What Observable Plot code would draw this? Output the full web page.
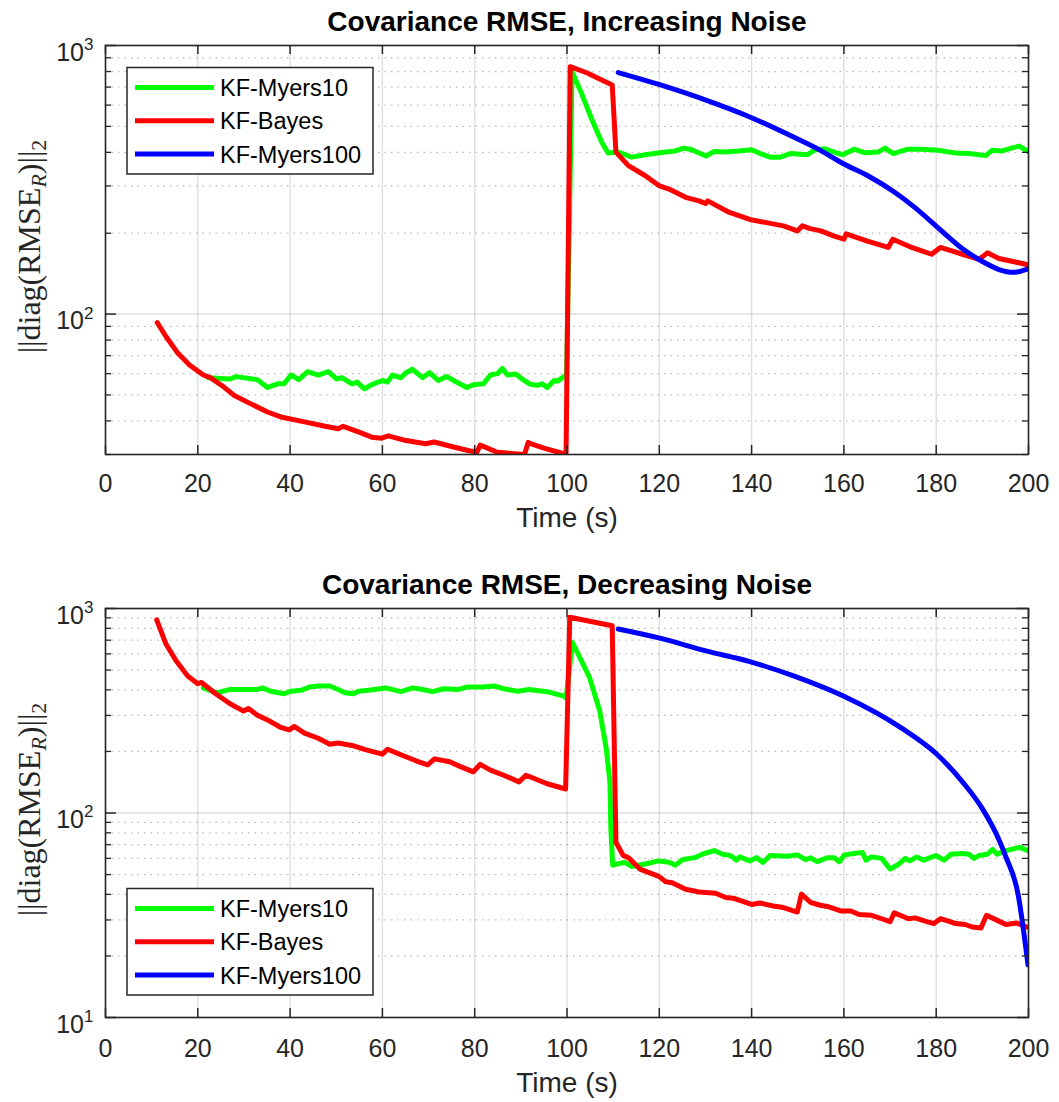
<!DOCTYPE html>
<html><head><meta charset="utf-8">
<script src="https://cdn.jsdelivr.net/npm/d3@7"></script>
<script src="https://cdn.jsdelivr.net/npm/@observablehq/plot@0.6"></script>
<style>body{margin:0;background:#fff;} svg{display:block;}</style>
</head><body><div id="chart"></div>
<script>
const seriesNames = ["KF-Myers10", "KF-Bayes", "KF-Myers100"];
const seriesColors = ["#00ff00", "#ff0000", "#0000ff"];
const xTicks = [0, 20, 40, 60, 80, 100, 120, 140, 160, 180, 200];
const titles = ["Covariance RMSE, Increasing Noise", "Covariance RMSE, Decreasing Noise"];
const xLabel = "Time (s)";

// Increasing noise panel: [time (s), value]
const incMyers10 = [[22.3,57.9],[27,57.3],[28.3,58.5],[32.9,57],[35.1,53.3],[37.3,55],[38.7,55],[40.2,59.3],[41.9,57],[43.8,61],[46.1,59.3],[48.3,61],[50.1,57.3],[51.2,58],[53.4,55],[54.5,55.8],[56.1,52.7],[57.7,54.6],[60,56.6],[61.1,55.8],[62.2,59.3],[64,57.9],[65.1,60.5],[66.5,62.3],[68.7,58],[70.2,60.5],[72.1,56.6],[73.9,58.6],[75.4,56.6],[78.3,53.3],[79.8,54.6],[81.9,55],[83.4,59.3],[84.9,60],[86,62.7],[87.1,59.3],[88.9,59.8],[90.7,56.6],[92,54.8],[93.5,54.3],[94.6,55],[95.7,53.3],[97.2,56.6],[97.9,56.2],[99,58],[99.9,59],[101.1,799],[103,673],[105.3,535],[107.5,437],[108.9,398],[111.1,401],[114,384],[116.9,392],[121.4,401],[123.5,405],[125.3,415],[126.9,410],[130.1,388],[131.9,403],[134.3,401],[137.2,405],[140,409],[141.9,396],[144,384],[146.2,384],[148.4,396],[152.1,392],[153.5,407],[155.7,413],[157.9,401],[159.7,392],[162.2,411],[164.4,399],[167.4,401],[168.9,415],[170.7,396],[173.9,411],[176.8,411],[180.5,407],[184.2,398],[187.1,396],[190.7,389],[192.1,407],[194.3,405],[195.9,413],[198,422],[199.9,403]];
const incBayes = [[11.2,93],[13.1,82.5],[15.7,71.4],[18.2,64.6],[21.2,59.3],[22.7,58],[25.6,53.6],[27.8,49.9],[31.4,46.4],[35.1,43.2],[38,41.4],[43.1,39.7],[47.6,38.2],[50.4,37.4],[51.5,38.2],[54.8,36.4],[57.7,34.8],[59.8,34.5],[61.3,35.2],[65.1,33.8],[69.4,32.9],[71.2,33.4],[75.4,32],[79,30.9],[80.5,30.7],[81.2,32.5],[84.9,30.6],[88.5,30.2],[90.8,30.0],[91.6,33.3],[92.1,32.9],[95,31.7],[99.3,30.2],[99.8,30.1],[100.7,834],[104.4,790],[107.4,745],[109.8,713],[110.6,401],[113.3,357],[116.9,328],[119.9,301],[122.1,292],[125.7,272],[128.6,264],[130,258],[130.5,264],[135.2,239],[139.6,225],[143.2,219],[146.9,213],[149.9,204],[151,213],[152.7,208],[155,204],[157.9,195],[160,190],[160.5,199],[165.1,187],[169.6,177],[170.6,190],[174.7,177],[179,167],[180.9,177],[185.7,167],[189.3,160],[191.1,169],[193.6,161],[199.6,153]];
const incMyers100 = [[111.1,793],[119.9,716],[130.1,626],[139.6,542],[149.1,456],[155,406],[160,362],[165.1,328],[171,284],[175.4,249],[181.3,203],[185.7,175],[190,157],[193.6,146.5],[196.7,143],[199.9,147.5]];

// Decreasing noise panel: [time (s), value]
const decMyers10 = [[21.2,409],[24.1,387],[27,402],[32.9,402],[34,409],[35.8,394],[38.7,383],[40.2,394],[42.4,398],[44.2,413],[46.1,418],[48.6,418],[50.4,402],[51.9,387],[53.7,383],[54.8,394],[57,398],[60.7,409],[64,392],[66.6,409],[68.7,402],[70.9,392],[73.2,405],[76.5,402],[78.3,413],[81.9,413],[84.2,418],[86.3,405],[89.3,394],[91.8,402],[95.7,392],[99.3,373],[99.8,365],[101.2,682],[104.9,459],[107.1,315],[108.5,207],[109.3,142],[109.5,83.8],[109.9,55.6],[112.5,57.4],[114,54.8],[116.9,56.3],[119.9,58.3],[122.1,57.4],[123.5,55.6],[125,59.1],[127.9,60.7],[129.7,63.4],[131.9,65.5],[133.7,62.9],[135.5,61.9],[136.7,58.8],[137.4,61],[139.6,58.3],[141,60.5],[142.5,57.4],[144,61.9],[147.6,61.4],[149.9,62.4],[151.7,59.1],[152.8,60.4],[154.2,57.8],[156.4,60.4],[157.9,60.4],[159,57.8],[160.1,62.4],[162.2,63.4],[164,64.2],[164.8,58.8],[166,61],[168.2,60],[170,53.2],[171.8,56],[173.3,60],[174.3,58.3],[175.8,61],[177.3,58.8],[179.9,62],[181.7,58.8],[183.2,62.9],[185.7,63.4],[187.1,62.9],[188.2,60],[189.3,62],[191.1,62.9],[192.2,66.3],[193.2,62.9],[195.1,65.5],[198.1,67.9],[199.9,65.5]];
const decBayes = [[11.1,880],[13.1,670],[15.3,555],[17.8,468],[20,429],[20.8,435],[24.1,380],[27,342],[29.9,315],[31,324],[32.9,301],[35,286],[38,262],[39.8,255],[40.9,265],[43.1,246],[46.1,232],[48.6,217],[50.4,220],[53.4,214],[56.3,204],[60,194],[61.1,205],[64.4,191],[67.3,180],[69.8,172],[71.3,184],[74.6,178],[76.8,169],[79.7,159],[81.2,173],[83.4,162],[86.3,153],[89.6,142],[91.1,153],[92.1,150],[95.7,139],[99.7,131],[100.6,906],[109.8,824],[110.6,72],[112.2,61.9],[113.3,60.5],[115.8,53.2],[119.9,49],[121.4,46.1],[122.8,45.6],[125.7,42.4],[128.6,41.1],[132.2,40.5],[134.4,38.6],[136,38.3],[140,35.7],[141.8,36.3],[144.7,35.1],[146.9,34.5],[149.9,32.8],[150.8,40.1],[152.8,36.5],[154.9,35.4],[156.4,34.9],[159.3,33.2],[161.5,33.2],[163.3,31.9],[166,31.6],[168.2,30.4],[170,29.4],[170.9,32.5],[174,30.4],[175.4,30.7],[177.6,29.6],[179.5,28.8],[180.9,30.4],[182.7,29.6],[184.2,28.8],[186.3,28.5],[187.8,27.7],[189.7,27.4],[190.9,31.6],[192.9,30.1],[195.1,28.5],[197.4,29],[199.6,27.7]];
const decMyers100 = [[111.1,794],[119.9,718],[130.1,621],[139.6,550],[149.1,468],[160,372],[172.5,260],[179.9,196],[185.7,142],[190,105],[193.6,74],[195.1,61],[197.8,39.4],[198.8,28],[199.9,18.1]];

const incMajor = [100, 1000];
const incMinor = [30, 40, 50, 60, 70, 80, 90, 200, 300, 400, 500, 600, 700, 800, 900];
const decMajor = [10, 100, 1000];
const decMinor = [20, 30, 40, 50, 60, 70, 80, 90, 200, 300, 400, 500, 600, 700, 800, 900];

const INK = "#262626";
const W = 1059, H = 551, ML = 105, MR = 31;

function panel({title, series, yDomain, majors, minors, mt, mb, legendTop, tickPad, xlabDy}) {
  const fw = W - ML - MR, fh = H - mt - mb;
  const svg = Plot.plot({
    width: W, height: H,
    marginLeft: ML, marginRight: MR, marginTop: mt, marginBottom: mb,
    style: {fontFamily: "'Liberation Sans', Arial, Helvetica, sans-serif", background: "#fff", overflow: "visible"},
    x: {domain: [0, 200]},
    y: {type: "log", domain: yDomain},
    marks: [
      Plot.ruleY(minors, {y: d => d, stroke: INK, strokeOpacity: 0.32, strokeWidth: 1.2, strokeDasharray: "1.5,5"}),
      Plot.ruleX(xTicks, {x: d => d, stroke: INK, strokeOpacity: 0.15, strokeWidth: 1.4}),
      Plot.ruleY(majors, {y: d => d, stroke: INK, strokeOpacity: 0.15, strokeWidth: 1.4}),
      ...series.map((s, i) => Plot.line(s, {x: d => d[0], y: d => d[1], stroke: seriesColors[i], strokeWidth: 5,
        strokeLinejoin: "round", clip: true, curve: i === 2 ? "monotone-x" : "linear"})),
      Plot.tickX(xTicks, {x: d => d, insetTop: fh - 9, stroke: INK, strokeWidth: 1.5}),
      Plot.tickX(xTicks, {x: d => d, insetBottom: fh - 9, stroke: INK, strokeWidth: 1.5}),
      Plot.tickY(majors, {y: d => d, insetRight: fw - 11, stroke: INK, strokeWidth: 1.5}),
      Plot.tickY(majors, {y: d => d, insetLeft: fw - 11, stroke: INK, strokeWidth: 1.5}),
      Plot.tickY(minors, {y: d => d, insetRight: fw - 6, stroke: INK, strokeWidth: 1.3}),
      Plot.tickY(minors, {y: d => d, insetLeft: fw - 6, stroke: INK, strokeWidth: 1.3}),
      Plot.frame({stroke: INK, strokeWidth: 1.6}),
      Plot.axisX(xTicks, {tickSize: 0, tickPadding: tickPad, fontSize: 25, fill: INK, label: null}),
      Plot.axisY(majors, {tickSize: 0, tickPadding: 12, dy: 7, fontSize: 25, fill: INK, label: null,
        tickFormat: d => "10^" + Math.round(Math.log10(d))}),
      Plot.text([xLabel], {frameAnchor: "bottom", lineAnchor: "middle", dy: xlabDy, fontSize: 28, fill: INK}),
      Plot.text([title], {frameAnchor: "top", lineAnchor: "middle", dy: -23, fontSize: 28, fontWeight: "bold", fill: "#000"})
    ]
  });
  const s = d3.select(svg);
  s.selectAll('g[aria-label="y-axis tick label"] text').each(function() {
    const str = this.textContent;
    const [b, e] = str.split("^");
    const t = d3.select(this);
    t.text(b);
    t.append("tspan").attr("font-size", "0.68em").attr("dy", "-0.62em").text(e);
  });
  // y label
  const cy = mt + fh / 2 - 3;
  const lab = s.append("text")
    .attr("transform", `translate(40,${cy}) rotate(-90)`)
    .attr("text-anchor", "middle")
    .attr("font-family", "'Liberation Serif', 'Times New Roman', serif")
    .attr("font-size", 32).attr("fill", INK);
  lab.append("tspan").text("||diag(RMSE");
  lab.append("tspan").attr("font-style", "italic").attr("font-size", 22).attr("dy", 6).text("R");
  lab.append("tspan").attr("dy", -6).text(")||");
  lab.append("tspan").attr("font-size", 22).attr("dy", 6).text("2");
  // legend
  const g = s.append("g");
  g.append("rect").attr("x", 127).attr("y", legendTop).attr("width", 246).attr("height", 106.5)
    .attr("fill", "#fff").attr("stroke", INK).attr("stroke-width", 1.5);
  seriesNames.forEach((n, i) => {
    const y = legendTop + 20 + i * 33.3;
    g.append("line").attr("x1", 135).attr("x2", 214).attr("y1", y).attr("y2", y)
      .attr("stroke", seriesColors[i]).attr("stroke-width", 5);
    g.append("text").attr("x", 220).attr("y", y).attr("dy", "0.36em")
      .attr("text-anchor", "start")
      .attr("font-family", "'Liberation Sans', Arial, sans-serif").attr("font-size", 23.5)
      .attr("fill", "#000").text(n);
  });
  return svg;
}

const root = document.getElementById("chart");
root.appendChild(panel({title: titles[0], series: [incMyers10, incBayes, incMyers100], yDomain: [30, 1000],
  majors: incMajor, minors: incMinor, mt: 45, mb: 97, legendTop: 67.5, tickPad: 20, xlabDy: 64}));
root.appendChild(panel({title: titles[1], series: [decMyers10, decBayes, decMyers100], yDomain: [10, 1000],
  majors: decMajor, minors: decMinor, mt: 57, mb: 85, legendTop: 337.5, tickPad: 22, xlabDy: 66}));
</script>
</body></html>
